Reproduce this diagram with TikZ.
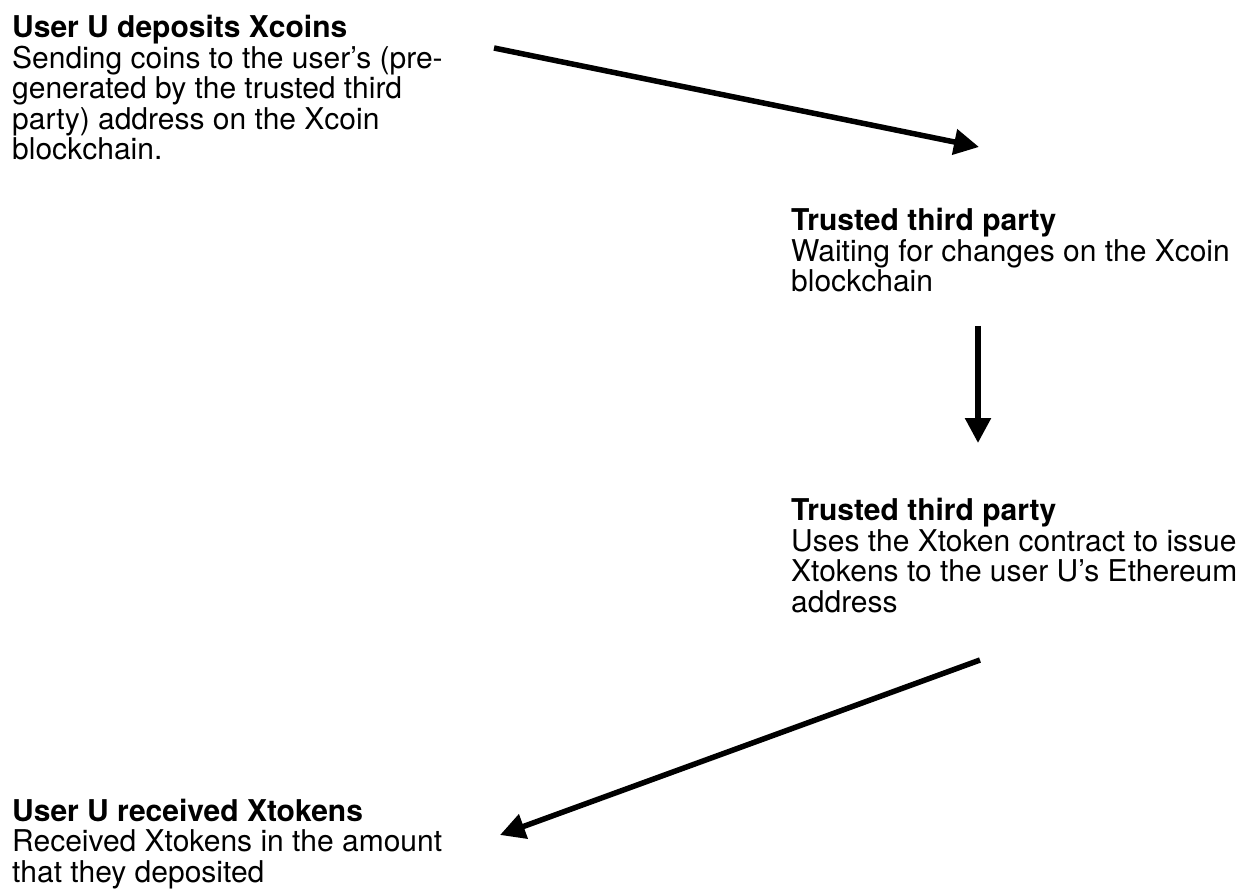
\documentclass[tikz,border=0pt]{standalone}
\usepackage{fontspec}
\setmainfont{TeX Gyre Heros}
\usetikzlibrary{arrows.meta}
\tikzset{
  txt/.style={inner sep=0pt, anchor=base west, align=left,
    font=\fontsize{30}{30.5}\selectfont},
  flow/.style={line width=5.5pt, -{Triangle[length=25pt,width=25pt]}}
}
\begin{document}
\begin{tikzpicture}[x=1pt,y=-1pt]
\useasboundingbox (0,0) rectangle (1244,890);
% base anchor = baseline of the last line
\node[txt] (dep) at (12,160) {\textbf{User U deposits Xcoins}\\Sending coins to the user’s (pre-\\generated by the trusted third\\party) address on the Xcoin\\blockchain.};
\node[txt] (wait) at (791,292) {\textbf{Trusted third party}\\Waiting for changes on the Xcoin\\blockchain};
\node[txt] (issue) at (791,612) {\textbf{Trusted third party}\\Uses the Xtoken contract to issue\\Xtokens to the user U’s Ethereum\\address};
\node[txt] (recv) at (12,882) {\textbf{User U received Xtokens}\\Received Xtokens in the amount\\that they deposited};
\coordinate (a1s) at (494,48);
\coordinate (a1e) at (979,147);
\coordinate (a2s) at (978,326);
\coordinate (a2e) at (978,443);
\coordinate (a3s) at (980,660);
\coordinate (a3e) at (500,835);
\draw[flow] (a1s) -- (a1e);
\draw[flow] (a2s) -- (a2e);
\draw[flow] (a3s) -- (a3e);
\end{tikzpicture}
\end{document}
